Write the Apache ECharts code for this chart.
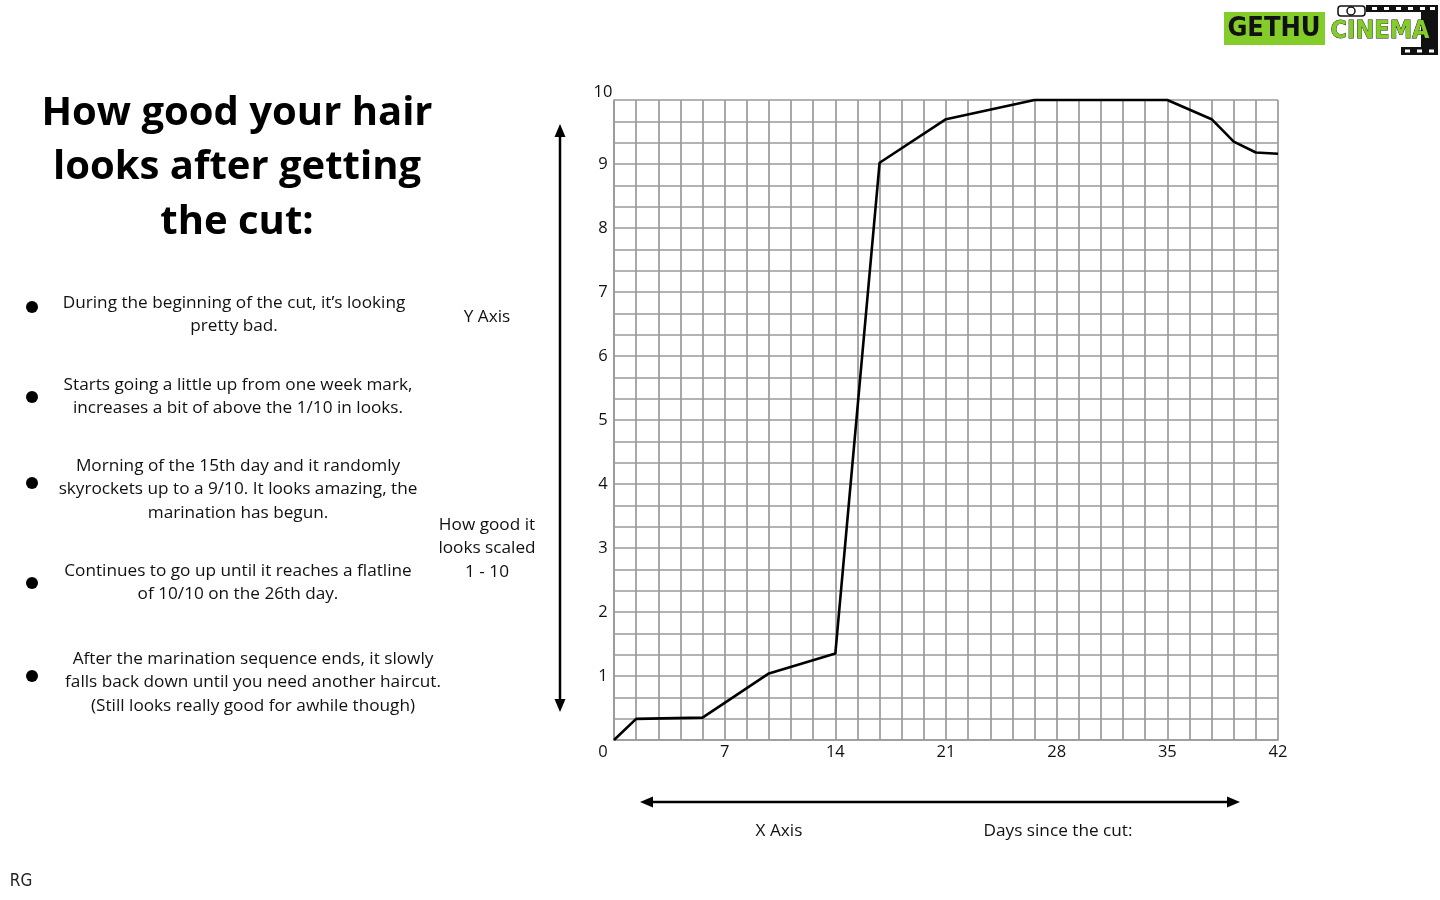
<!DOCTYPE html>
<html>
<head>
<meta charset="utf-8">
<style>
  html, body { margin: 0; padding: 0; background: #ffffff; }
  #chart { width: 1440px; height: 900px; }
</style>
<script src="https://cdn.jsdelivr.net/npm/echarts@6/dist/echarts.min.js"></script>
</head>
<body>
<div id="chart"></div>
<script>
// ---- data ----
const days   = [0, 1.4, 5.6, 9.8, 14, 16.8, 21, 26.6, 35, 37.8, 39.2, 40.6, 42];
const scores = [0, 0.33, 0.35, 1.04, 1.35, 9.02, 9.7, 10, 10, 9.7, 9.35, 9.18, 9.16];
const xTickLabels = [0, 7, 14, 21, 28, 35, 42];
const yTickLabels = [1, 2, 3, 4, 5, 6, 7, 8, 9, 10];

const titleLines = ['How good your hair', 'looks after getting', 'the cut:'];
const notes = [
  ['During the beginning of the cut, it\u2019s looking', 'pretty bad.'],
  ['Starts going a little up from one week mark,', 'increases a bit of above the 1/10 in looks.'],
  ['Morning of the 15th day and it randomly', 'skyrockets up to a 9/10. It looks amazing, the', 'marination has begun.'],
  ['Continues to go up until it reaches a flatline', 'of 10/10 on the 26th day.'],
  ['After the marination sequence ends, it slowly', 'falls back down until you need another haircut.', '(Still looks really good for awhile though)']
];
const yAxisNote = ['How good it', 'looks scaled', '1 - 10'];

// ---- layout / style ----
const FONT = '"Open Sans", "Noto Sans", sans-serif';
const gridLine = { color: '#9a9a9a', width: 1.7 };
const noteLayout = [
  { x: 234, y: 291, bx: 32, by: 307 },
  { x: 238, y: 373, bx: 32, by: 397 },
  { x: 238, y: 454, bx: 32, by: 483 },
  { x: 238, y: 559, bx: 32, by: 583 },
  { x: 253, y: 647, bx: 32, by: 676 }
];

const chart = echarts.init(document.getElementById('chart'), null, { renderer: 'canvas' });

const graphics = [];
// title
graphics.push({
  type: 'text', x: 237, y: 86,
  style: {
    text: titleLines.join('\n'), fill: '#000', font: 'bold 40px ' + FONT,
    lineHeight: 54.5, align: 'center', verticalAlign: 'top'
  }
});
// notes + bullets
notes.forEach((lines, i) => {
  const p = noteLayout[i];
  graphics.push({
    type: 'text', x: p.x, y: p.y,
    style: { text: lines.join('\n'), fill: '#111', font: '17.2px ' + FONT, lineHeight: 23.7, align: 'center', verticalAlign: 'top' }
  });
  graphics.push({ type: 'circle', shape: { cx: p.bx, cy: p.by, r: 6 }, style: { fill: '#000' } });
});
// axis notes
graphics.push({ type: 'text', x: 487, y: 317, style: { text: 'Y Axis', fill: '#111', font: '17.2px ' + FONT, align: 'center', verticalAlign: 'middle' } });
graphics.push({ type: 'text', x: 487, y: 513, style: { text: yAxisNote.join('\n'), fill: '#111', font: '17.2px ' + FONT, lineHeight: 23.7, align: 'center', verticalAlign: 'top' } });
graphics.push({ type: 'text', x: 779, y: 831, style: { text: 'X Axis', fill: '#111', font: '17.2px ' + FONT, align: 'center', verticalAlign: 'middle' } });
graphics.push({ type: 'text', x: 1058, y: 831, style: { text: 'Days since the cut:', fill: '#111', font: '17.2px ' + FONT, align: 'center', verticalAlign: 'middle' } });
// vertical double arrow
graphics.push({ type: 'line', shape: { x1: 560, y1: 132, x2: 560, y2: 706 }, style: { stroke: '#000', lineWidth: 2.5 } });
graphics.push({ type: 'polygon', shape: { points: [[560, 124], [554.5, 137], [565.5, 137]] }, style: { fill: '#000' } });
graphics.push({ type: 'polygon', shape: { points: [[560, 712], [554.5, 699], [565.5, 699]] }, style: { fill: '#000' } });
// horizontal double arrow
graphics.push({ type: 'line', shape: { x1: 648, y1: 802, x2: 1232, y2: 802 }, style: { stroke: '#000', lineWidth: 2.5 } });
graphics.push({ type: 'polygon', shape: { points: [[640, 802], [653, 796.5], [653, 807.5]] }, style: { fill: '#000' } });
graphics.push({ type: 'polygon', shape: { points: [[1240, 802], [1227, 796.5], [1227, 807.5]] }, style: { fill: '#000' } });
// logo
graphics.push({ type: 'rect', shape: { x: 1224, y: 12, width: 101, height: 33 }, style: { fill: '#84cc2a' } });
graphics.push({ type: 'text', x: 1274, y: 29, style: { text: 'GETHU', fill: '#111', font: 'bold 27px "DejaVu Sans Condensed", "DejaVu Sans", sans-serif', align: 'center', verticalAlign: 'middle' } });
graphics.push({ type: 'rect', shape: { x: 1366, y: 5, width: 72, height: 7 }, style: { fill: '#111' } });
graphics.push({ type: 'rect', shape: { x: 1401, y: 47, width: 37, height: 8 }, style: { fill: '#111' } });
graphics.push({ type: 'rect', shape: { x: 1421, y: 5, width: 17, height: 50 }, style: { fill: '#111' } });
[1372, 1384, 1396, 1408, 1420, 1430].forEach(sx => {
  graphics.push({ type: 'rect', shape: { x: sx, y: 7, width: 5, height: 3 }, style: { fill: '#fff' } });
});
[1405, 1417, 1429].forEach(sx => {
  graphics.push({ type: 'rect', shape: { x: sx, y: 49.5, width: 5, height: 3 }, style: { fill: '#fff' } });
});
graphics.push({ type: 'rect', shape: { x: 1338, y: 6, width: 27, height: 10, r: 3 }, style: { fill: 'none', stroke: '#111', lineWidth: 1.5 } });
graphics.push({ type: 'circle', shape: { cx: 1351, cy: 11, r: 4 }, style: { fill: '#fff', stroke: '#111', lineWidth: 1.5 } });
graphics.push({ type: 'text', x: 1380, y: 31, style: { text: 'CINEMA', fill: '#84cc2a', stroke: '#111', lineWidth: 0.8, font: 'bold 25px "DejaVu Sans Condensed", "DejaVu Sans", sans-serif', align: 'center', verticalAlign: 'middle' } });
// signature
graphics.push({ type: 'text', x: 21, y: 882, style: { text: 'RG', fill: '#222', font: '17px "DejaVu Sans Condensed", sans-serif', align: 'center', verticalAlign: 'middle' } });

const isTick = (v, list) => list.some(t => Math.abs(v - t) < 1e-6);

const option = {
  backgroundColor: '#ffffff',
  animation: false,
  grid: { left: 614, right: 162, top: 100, bottom: 160, containLabel: false, outerBoundsMode: 'none' },
  xAxis: {
    type: 'value', min: 0, max: 42, interval: 7,
    axisLine: { show: true, lineStyle: gridLine },
    axisTick: { show: false },
    minorTick: { show: false, splitNumber: 5 },
    splitLine: { show: true, lineStyle: gridLine },
    minorSplitLine: { show: true, lineStyle: gridLine },
    axisLabel: {
      margin: 4, color: '#111', fontSize: 16.5, fontFamily: FONT,
      formatter: v => {
        if (!isTick(v, xTickLabels)) return '';
        const r = Math.round(v);
        return r === 0 ? '{zero|0}' : String(r);
      },
      rich: { zero: { fontSize: 16.5, fontFamily: FONT, color: '#111', padding: [0, 22, 0, 0] } }
    }
  },
  yAxis: {
    type: 'value', min: 0, max: 10, interval: 1,
    axisLine: { show: true, lineStyle: gridLine },
    axisTick: { show: false },
    minorTick: { show: false, splitNumber: 3 },
    splitLine: { show: true, lineStyle: gridLine },
    minorSplitLine: { show: true, lineStyle: gridLine },
    axisLabel: {
      margin: 11, align: 'center', color: '#111', fontSize: 16.5, fontFamily: FONT,
      formatter: v => {
        if (!isTick(v, yTickLabels)) return '';
        const r = Math.round(v);
        return r === 10 ? '{top|10}' : String(r);
      },
      rich: { top: { fontSize: 16.5, fontFamily: FONT, color: '#111', padding: [0, 0, 15, 0] } }
    }
  },
  series: [{
    type: 'line',
    data: days.map((d, i) => [d, scores[i]]),
    symbol: 'none',
    clip: false,
    lineStyle: { color: '#000', width: 2.6 },
    z: 5
  }],
  graphic: graphics
};
chart.setOption(option);
</script>
</body>
</html>
